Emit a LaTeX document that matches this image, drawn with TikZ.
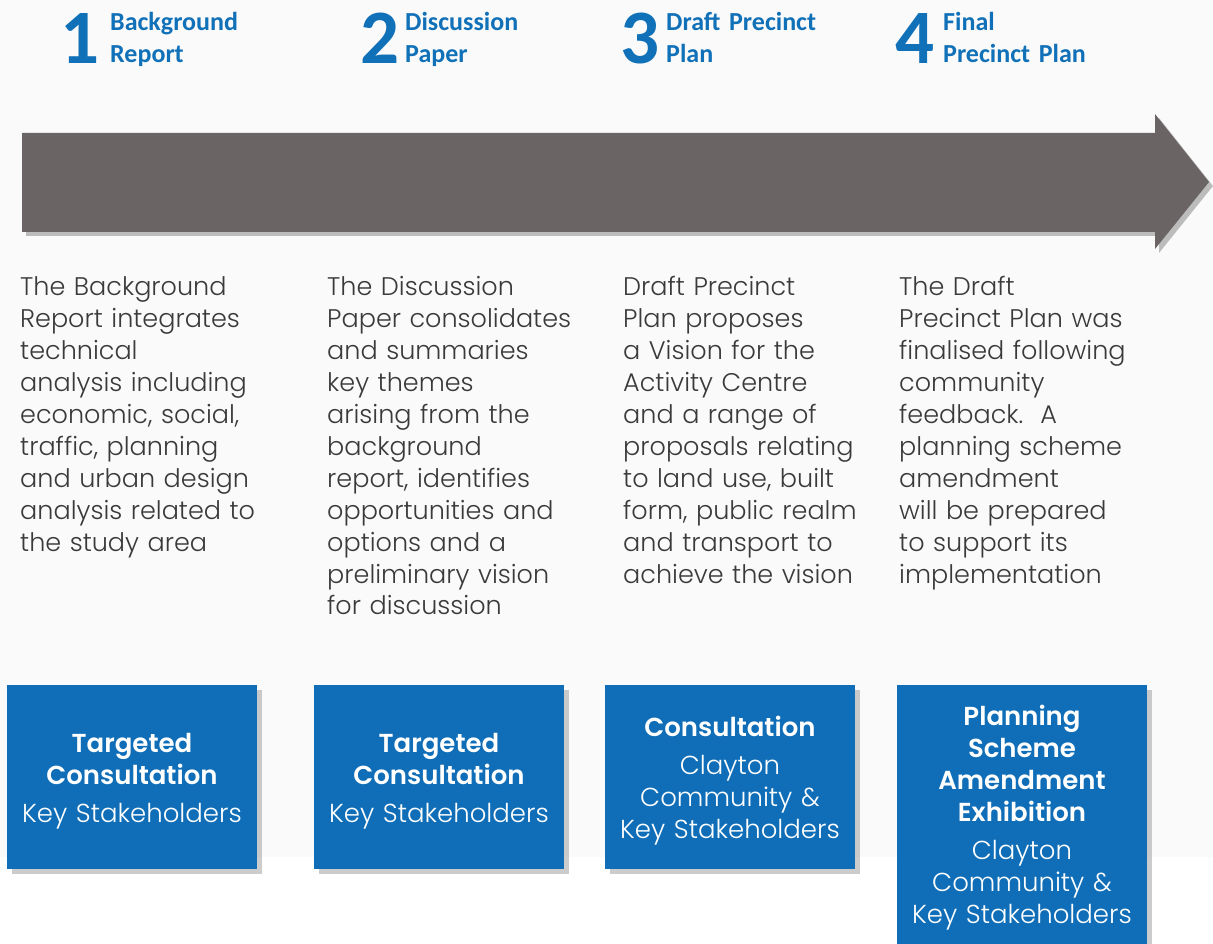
\documentclass[tikz,border=0pt]{standalone}
\usepackage{fontspec}
\usetikzlibrary{shadows}
\newfontfamily\headfont{Carlito}
\newfontfamily\bodyfont{Poppins}[UprightFont={* Light},BoldFont={* SemiBold}]
\definecolor{hblue}{HTML}{1070B8}
\definecolor{bblue}{HTML}{0F6EB7}
\definecolor{agray}{HTML}{6A6564}
\definecolor{tgray}{HTML}{3A3A3A}
\definecolor{bg}{HTML}{FAFAFA}
\tikzset{
  num/.style={anchor=base west,inner sep=0,text=hblue,font=\headfont\bfseries\fontsize{77}{77}\selectfont},
  head/.style={anchor=base west,inner sep=0,text=hblue,align=left,text width=260pt,font=\headfont\bfseries\fontsize{26}{32}\selectfont},
  body/.style={anchor=base west,inner sep=0,text=tgray,align=left,text width=290pt,font=\bodyfont\fontsize{25.5}{32}\selectfont},
  cbox/.style={fill=bblue,draw=none,drop shadow={shadow xshift=5pt,shadow yshift=-5pt,fill=black!40,opacity=0.5}},
  btext/.style={anchor=base,inner sep=0,text=white,align=center,text width=250pt,font=\bodyfont\fontsize{26}{32}\selectfont},
}
\begin{document}
\begin{tikzpicture}[x=1pt,y=-1pt]
\fill[bg] (0,0) rectangle (1213,857);
\useasboundingbox (0,0) rectangle (1213,944);
% headers
\node[num] (n1) at (60,64) {1};
\node[head] (h1) at (110,31) {Background\\Report};
\node[num] (n2) at (360,64) {2};
\node[head] (h2) at (405,31) {Discussion\\Paper};
\node[num] (n3) at (620,64) {3};
\node[head] (h3) at (666,31) {Draft Precinct\\Plan};
\node[num] (n4) at (895,64) {4};
\node[head] (h4) at (943,31) {Final\\Precinct Plan};
% arrow
\fill[agray,drop shadow={shadow xshift=4pt,shadow yshift=-4pt,fill=black!50,opacity=0.5}]
  (22,133) -- (1155,133) -- (1155,114) -- (1209,182) -- (1155,249) -- (1155,232) -- (22,232) -- cycle;
% body text
\node[body] (t1) at (20,295) {The Background\\Report integrates\\technical\\analysis including\\economic, social,\\traffic, planning\\and urban design\\analysis related to\\the study area};
\node[body] (t2) at (327,295) {The Discussion\\Paper consolidates\\and summaries\\key themes\\arising from the\\background\\report, identifies\\opportunities and\\options and a\\preliminary vision\\for discussion};
\node[body] (t3) at (623,295) {Draft Precinct\\Plan proposes\\a Vision for the\\Activity Centre\\and a range of\\proposals relating\\to land use, built\\form, public realm\\and transport to\\achieve the vision};
\node[body] (t4) at (899,295) {The Draft\\Precinct Plan was\\finalised following\\community\\feedback.\ \ A\\planning scheme\\amendment\\will be prepared\\to support its\\implementation};
% boxes
\path[cbox] (7,685) rectangle (257,869);
\path[cbox] (314,685) rectangle (564,869);
\path[cbox] (605,685) rectangle (855,869);
\path[cbox] (897,685) rectangle (1147,960);
\node[btext] (b1) at (132,752) {\textbf{Targeted}\\\textbf{Consultation}\\[6pt]Key Stakeholders};
\node[btext] (b2) at (439,752) {\textbf{Targeted}\\\textbf{Consultation}\\[6pt]Key Stakeholders};
\node[btext] (b3) at (730,736) {\textbf{Consultation}\\[6pt]Clayton\\Community \&\\Key Stakeholders};
\node[btext] (b4) at (1022,725) {\textbf{Planning}\\\textbf{Scheme}\\\textbf{Amendment}\\\textbf{Exhibition}\\[6pt]Clayton\\Community \&\\Key Stakeholders};
\end{tikzpicture}
\end{document}
